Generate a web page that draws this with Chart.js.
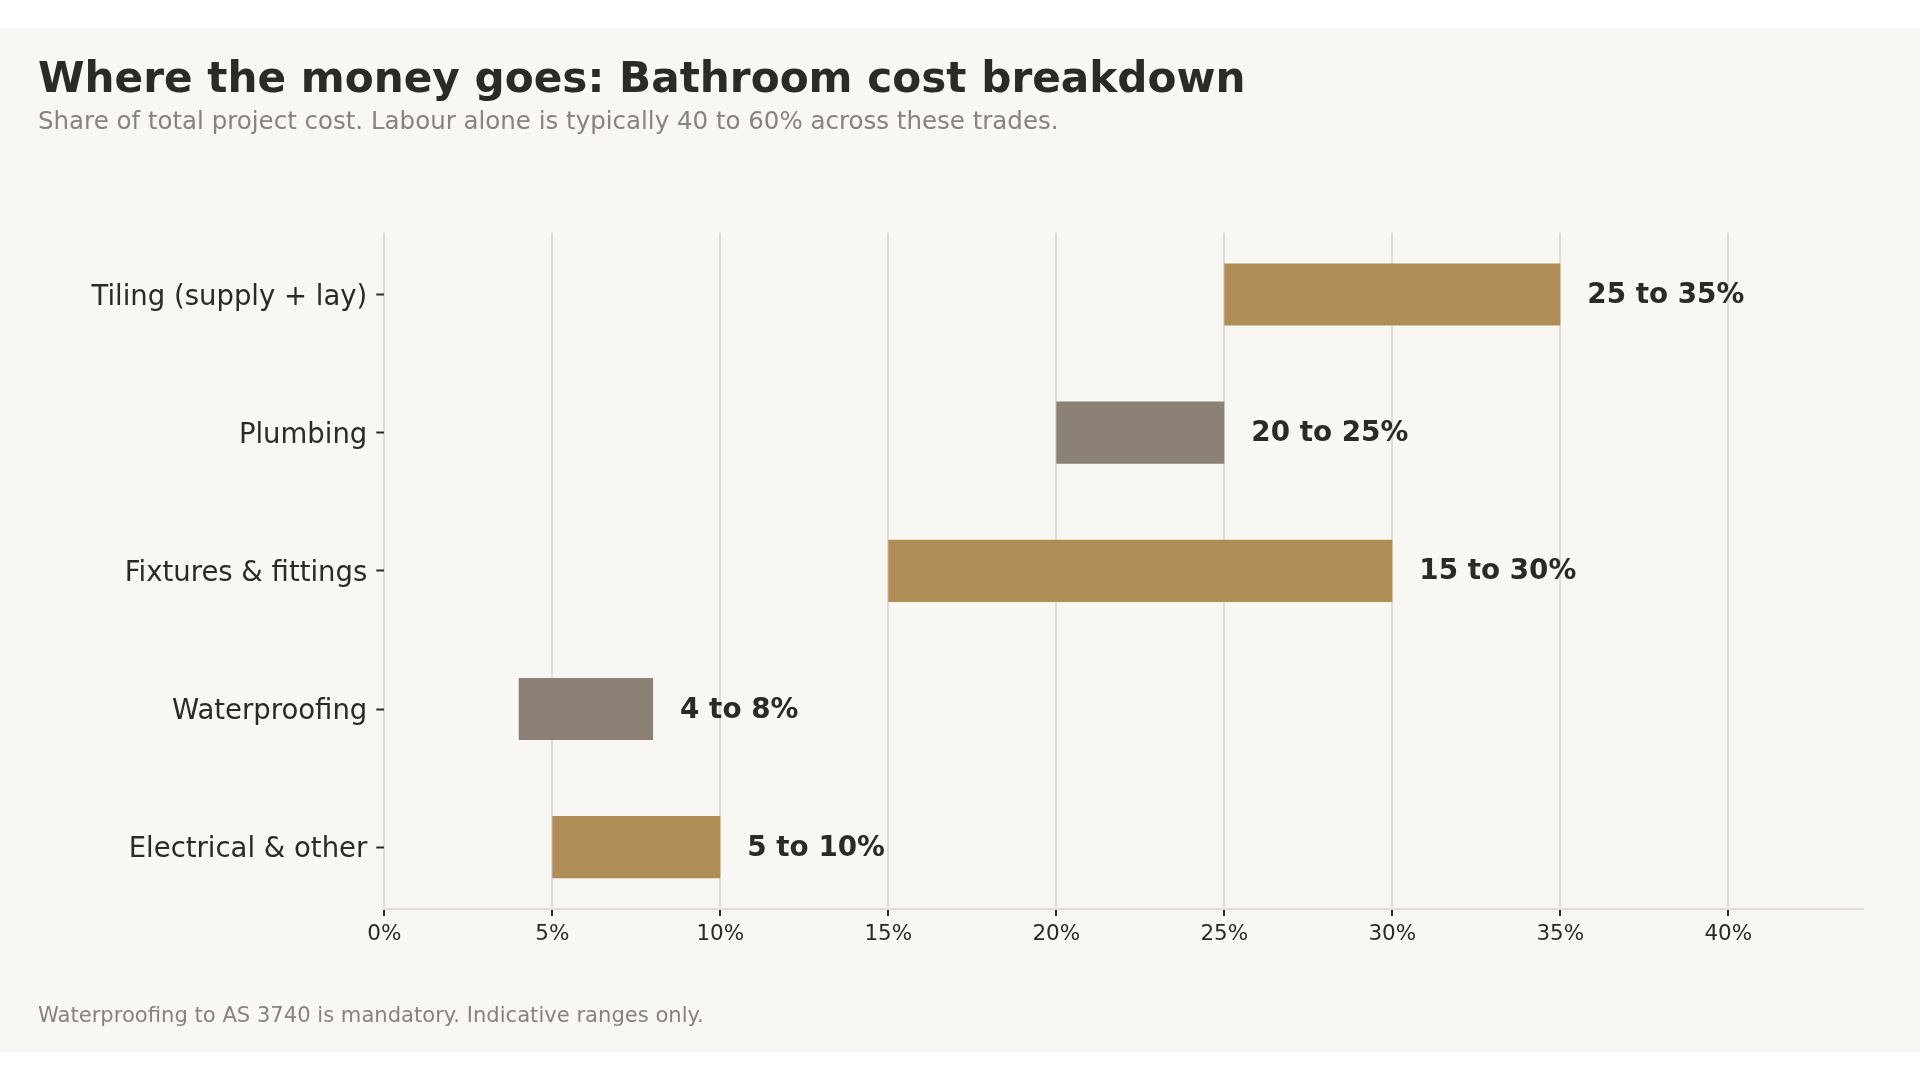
<!doctype html>
<html lang="en">

<head>
    <meta charset="utf-8">
    <title>Bathroom cost breakdown</title>
    <style>
        body { margin: 0; background: #ffffff; font-family: "DejaVu Sans", sans-serif; }
        .wrap { position: relative; width: 1920px; height: 1080px; overflow: hidden; }
        .panel { position: absolute; left: 0; top: 28px; width: 1920px; height: 1024px; background: #f8f7f3; }
        .txt { position: absolute; left: 38px; line-height: 1; white-space: nowrap; }
        #title { top: 57.3px; font-size: 42.2px; font-weight: bold; color: #2b2a27; }
        #subtitle { top: 109.3px; font-size: 24.5px; color: #8a837b; }
        #footer { top: 1003.8px; font-size: 21.1px; color: #8a837b; }
        canvas { position: absolute; left: 0; top: 0; }
    </style>
</head>

<body>
    <div class="wrap">
        <div class="panel"></div>
        <canvas id="myChart" width="1920" height="1080"></canvas>
        <div class="txt" id="title">Where the money goes: Bathroom cost breakdown</div>
        <div class="txt" id="subtitle">Share of total project cost. Labour alone is typically 40 to 60% across these trades.</div>
        <div class="txt" id="footer">Waterproofing to AS 3740 is mandatory. Indicative ranges only.</div>
    </div>

    <script src="https://cdn.jsdelivr.net/npm/chart.js@4.4.0/dist/chart.umd.min.js"></script>
    <script>
        const categories = ["Tiling (supply + lay)", "Plumbing", "Fixtures & fittings", "Waterproofing", "Electrical & other"];
        const lowValues = [25, 20, 15, 4, 5];
        const highValues = [35, 25, 30, 8, 10];
        const barColors = ["#b08d57", "#8b8177", "#b08d57", "#8b8177", "#b08d57"];
        const xTicks = [0, 5, 10, 15, 20, 25, 30, 35, 40];

        const font = "'DejaVu Sans', sans-serif";
        const dark = "#2b2a27";

        // labels like "25 to 35%" just right of each bar
        const rangeLabels = {
            id: 'rangeLabels',
            afterDatasetsDraw(chart) {
                const ctx = chart.ctx;
                const meta = chart.getDatasetMeta(0);
                ctx.save();
                ctx.font = "bold 27.8px " + font;
                ctx.fillStyle = dark;
                ctx.textAlign = "left";
                ctx.textBaseline = "alphabetic";
                meta.data.forEach((bar, i) => {
                    const text = lowValues[i] + " to " + highValues[i] + "%";
                    ctx.fillText(text, bar.x + 27, bar.y + 8.5);
                });
                ctx.restore();
            }
        };

        const data = {
            datasets: [{
                data: categories.map((c, i) => ({ x: [lowValues[i], highValues[i]], y: i })),
                backgroundColor: barColors,
                borderWidth: 0,
                borderSkipped: false,
                categoryPercentage: 1,
                barPercentage: 0.45,
            }]
        };

        const config = {
            type: 'bar',
            data: data,
            plugins: [rangeLabels],
            options: {
                indexAxis: 'y',
                responsive: false,
                animation: false,
                layout: { padding: { top: 232.7, right: 57.3, bottom: 0, left: 0 } },
                plugins: {
                    legend: { display: false },
                    tooltip: { enabled: false },
                },
                scales: {
                    x: {
                        type: 'linear',
                        min: 0,
                        max: 44,
                        afterFit: (scale) => { scale.height = 171; },
                        afterBuildTicks: (scale) => { scale.ticks = xTicks.map(v => ({ value: v })); },
                        border: { display: true, color: "#e4dfd5", width: 2 },
                        grid: {
                            color: "#e0dcd5",
                            lineWidth: 2,
                            drawTicks: true,
                            tickLength: 7,
                            tickColor: dark,
                            tickWidth: 2,
                        },
                        ticks: {
                            padding: 6,
                            color: dark,
                            font: { family: font, size: 21.5 },
                            callback: (v) => v + "%",
                        }
                    },
                    y: {
                        type: 'linear',
                        reverse: true,
                        offset: false,
                        min: -0.4475,
                        max: 4.4475,
                        afterFit: (scale) => { scale.width = 384.3; },
                        afterBuildTicks: (scale) => { scale.ticks = categories.map((c, i) => ({ value: i })); },
                        border: { display: false },
                        grid: {
                            offset: false,
                            drawOnChartArea: false,
                            drawTicks: true,
                            tickLength: 8,
                            tickColor: dark,
                            tickWidth: 2,
                        },
                        ticks: {
                            padding: 9,
                            labelOffset: 3,
                            color: dark,
                            font: { family: font, size: 27.5 },
                            callback: (v) => categories[v] ?? "",
                        }
                    }
                },
            }
        };

        new Chart(document.getElementById('myChart'), config);
    </script>
</body>

</html>
